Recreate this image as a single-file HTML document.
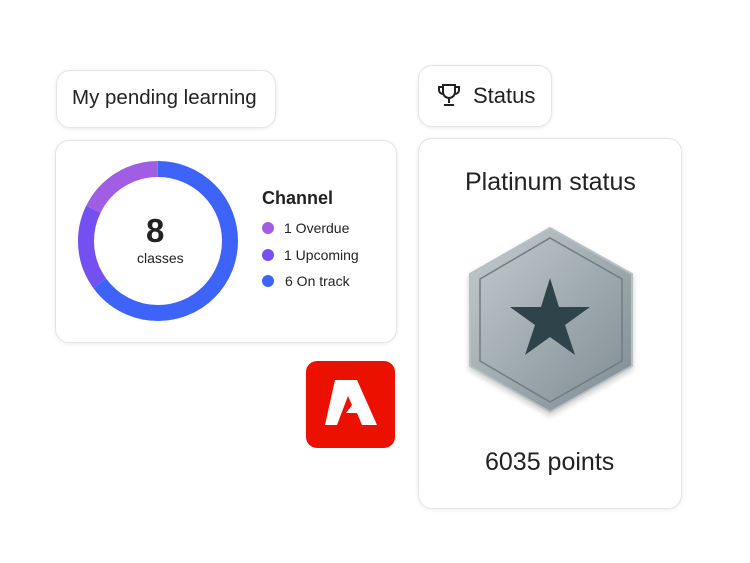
<!DOCTYPE html>
<html><head><style>
body{margin:0;width:750px;height:563px;background:#fff;font-family:"Liberation Sans",sans-serif;position:relative;overflow:hidden;color:#222}
.card{position:absolute;background:#fff;border:1px solid #e4e4e4;border-radius:14px;box-shadow:0 1px 4px rgba(0,0,0,0.08)}
.t{position:absolute;white-space:nowrap}
</style></head><body>
<div class="card" style="left:56px;top:70px;width:218px;height:56px"></div>
<div class="t" style="left:72px;top:86px;font-size:20.5px">My pending learning</div>
<div class="card" style="left:418px;top:65px;width:132px;height:60px"></div>
<svg style="position:absolute;left:436px;top:82px" width="26" height="26" viewBox="0 0 26 26" fill="none" stroke="#222" stroke-width="2"><path d="M7 3h12v7a6 6 0 0 1-12 0z"/><path d="M7 5H3v3a4 4 0 0 0 4 4M19 5h4v3a4 4 0 0 1-4 4"/><path d="M13 16v5M8 23h10"/></svg>
<div class="t" style="left:473px;top:83px;font-size:22px">Status</div>

<div class="card" style="left:55px;top:140px;width:340px;height:201px"></div>
<svg style="position:absolute;left:0;top:0" width="750" height="563">
<g transform="translate(158,241) rotate(-90)" fill="none" stroke-width="16">
<circle r="72" stroke="#3d63f8" stroke-dasharray="294.1 1000"/>
<circle r="72" stroke="#7350ef" stroke-dasharray="0 294.1 78 1000"/>
<circle r="72" stroke="#a15de4" stroke-dasharray="0 372.1 80 1000"/>
</g>
</svg>
<div class="t" style="left:146px;top:212px;font-size:33px;font-weight:bold">8</div>
<div class="t" style="left:137px;top:250px;font-size:14px">classes</div>
<div class="t" style="left:262px;top:188px;font-size:18px;font-weight:bold">Channel</div>
<div style="position:absolute;left:262px;top:222px;width:12px;height:12px;border-radius:50%;background:#a15de4"></div>
<div class="t" style="left:284px;top:220px;font-size:14px">1 Overdue</div>
<div style="position:absolute;left:262px;top:249px;width:12px;height:12px;border-radius:50%;background:#7350ef"></div>
<div class="t" style="left:284px;top:247px;font-size:14px">1 Upcoming</div>
<div style="position:absolute;left:262px;top:275px;width:12px;height:12px;border-radius:50%;background:#3d63f8"></div>
<div class="t" style="left:285px;top:273px;font-size:14px">6 On track</div>

<div style="position:absolute;left:306px;top:361px;width:89px;height:87px;border-radius:11px;background:#eb1000"></div>
<svg style="position:absolute;left:306px;top:361px" width="89" height="87"><path d="M29 19H51L71 64H56L51 52H40L46 44L42 35L31 64H19Z" fill="#fff"/></svg>

<div class="card" style="left:418px;top:138px;width:262px;height:369px"></div>
<div class="t" style="left:465px;top:168px;font-size:25px">Platinum status</div>
<svg style="position:absolute;left:0;top:0" width="750" height="563">
<defs><linearGradient id="g" x1="0" y1="0" x2="1" y2="1"><stop offset="0" stop-color="#c3ccd0"/><stop offset="1" stop-color="#7e8b92"/></linearGradient>
<filter id="s"><feDropShadow dx="0" dy="3" stdDeviation="3" flood-opacity="0.2"/></filter></defs>
<polygon points="550,228 632,274 632,366 550,412 470,366 470,274" fill="url(#g)" stroke="#b8c0c4" stroke-width="2" filter="url(#s)"/>
<polygon points="550,238 622,279 622,361 550,402 480,361 480,279" fill="none" stroke="#6f7c83" stroke-width="1.5"/>
<polygon points="550,278 559,307 590,307 565,325 575,355 550,337 525,355 535,325 510,307 541,307" fill="#2f434b"/>
</svg>
<div class="t" style="left:485px;top:448px;font-size:25px">6035 points</div>
</body></html>
